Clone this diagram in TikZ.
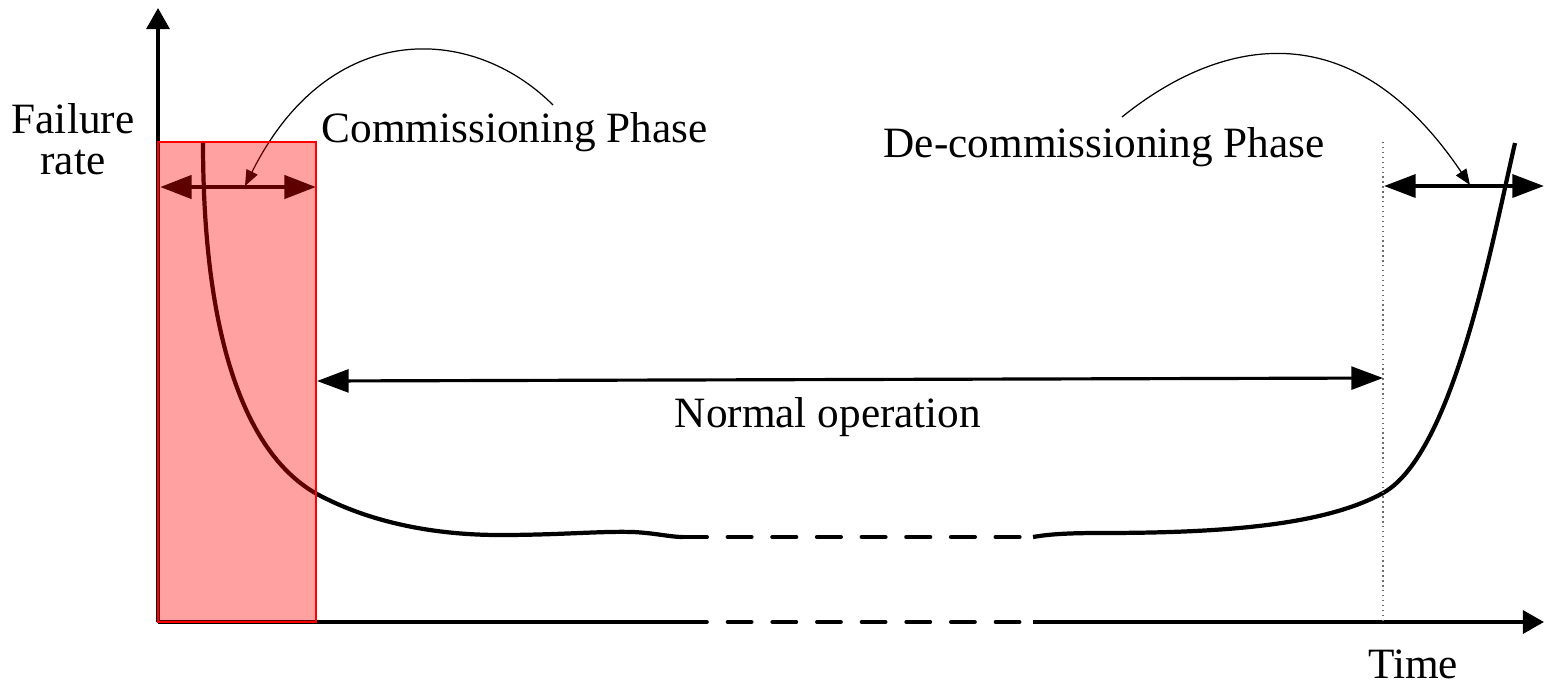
\documentclass[tikz,border=0pt]{standalone}
\usepackage{fontspec}
\setmainfont{Liberation Serif}
\usetikzlibrary{arrows.meta}
\definecolor{myRed}{RGB}{255, 0, 0}
\definecolor{myGrey}{RGB}{110, 110, 110}

\begin{document}
\begin{tikzpicture}[x=0.01cm, y=-0.01cm,
		every node/.style={font=\fontsize{12.3}{11.7}\selectfont, inner sep=0pt},
		axis/.style={line width=1.1pt, -{Triangle[length=6pt, width=6.5pt]}},
		span/.style={line width=1.1pt, {Triangle[length=9pt, width=6.5pt]}-{Triangle[length=9pt, width=6.5pt]}},
		pointer/.style={line width=0.35pt, -{Triangle[length=4.5pt, width=3.5pt]}},
		curve/.style={line width=1.2pt},
		gap/.style={dash pattern=on 6.8pt off 5.9pt, line cap=round}]
			\useasboundingbox (0,0) rectangle (1544,684);

			\coordinate (O) at (158,622);
			\coordinate (yTop) at (158,8);
			\coordinate (xA) at (683,622);
			\coordinate (xB) at (1033,622);
			\coordinate (xEnd) at (1544,622);

			\draw (73,139) node[align=center] (rate) {Failure\\rate};
			\draw (321,142) node[anchor=base west] (comm) {Commissioning Phase};
			\draw (883,157) node[anchor=base west] (decomm) {De-commissioning Phase};
			\draw (828,427) node[anchor=base] (normal) {Normal operation};
			\draw (1413,678) node[anchor=base] (time) {Time};

			% axes
			\draw[axis] (O) -- (yTop);
			\draw[line width=1.1pt] (O) -- (xA);
			\draw[line width=1.1pt, gap] (xA) -- (xB);
			\draw[axis] (xB) -- (xEnd);

			% bathtub curve
			\coordinate (cTop) at (203,142);
			\coordinate (cA) at (683,537);
			\coordinate (cB) at (1033,537);
			\coordinate (cEnd) at (1515,143);
			\draw[curve] (cTop) .. controls (203,342) and (247,455) .. (317,494)
				.. controls (367,521) and (430,535) .. (500,535)
				.. controls (560,535) and (600,531) .. (633,532)
				.. controls (655,533) and (670,537) .. (cA);
			\draw[curve, gap] (cA) -- (cB);
			\draw[curve] (cB) .. controls (1050,534) and (1070,533) .. (1100,533)
				.. controls (1220,533) and (1323,526) .. (1383,493)
				.. controls (1453,454) and (1492,243) .. (cEnd);

			% phase limits
			\coordinate (dTop) at (1383,142);
			\coordinate (dBot) at (1383,622);
			\draw[myGrey, densely dotted, line width=0.4pt] (dTop) -- (dBot);

			\coordinate (cL) at (160,187);
			\coordinate (cR) at (316,187);
			\coordinate (nL) at (317,381);
			\coordinate (nR) at (1383,378);
			\coordinate (dL) at (1384,186);
			\coordinate (dR) at (1544,186);
			\draw[span, line width=1.4pt] (cL) -- (cR);
			\draw[span, line width=0.9pt] (nL) -- (nR);
			\draw[span] (dL) -- (dR);

			% pointers from the labels
			\coordinate (pA) at (553,105);
			\coordinate (pB) at (245,186);
			\coordinate (qA) at (1122,117);
			\coordinate (qB) at (1470,185);
			\draw[pointer] (pA) .. controls (472,24) and (329,18) .. (pB);
			\draw[pointer] (qA) .. controls (1206,49) and (1343,-3) .. (qB);

			\draw[myRed, fill=myRed, fill opacity=0.37, line width=0.4pt] (158,142) rectangle (316,622);
		\end{tikzpicture}
\end{document}
